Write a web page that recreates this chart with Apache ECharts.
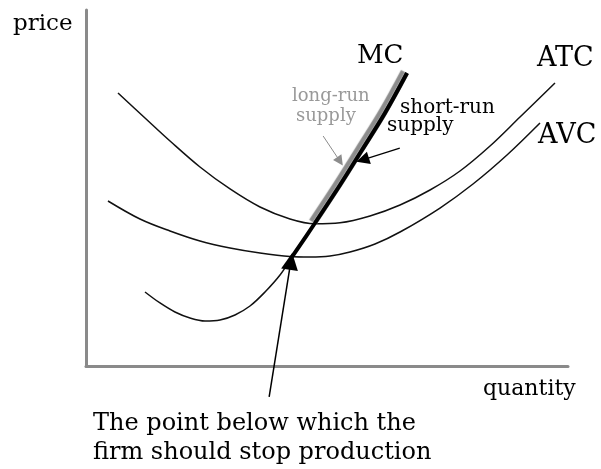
<!DOCTYPE html>
<html>
<head>
<meta charset="utf-8">
<script src="https://cdn.jsdelivr.net/npm/echarts@6/dist/echarts.min.js"></script>
<style>
  html, body { margin: 0; padding: 0; background: #ffffff; }
  #chart { width: 601px; height: 469px; }
</style>
</head>
<body>
<div id="chart"></div>
<script>
// Cost curves of a competitive firm (quantity and price in arbitrary units, 0-100)
const atcQty   = [6.64, 12.24, 17.43, 23.65, 29.88, 36.10, 42.32, 47.51, 52.70, 58.92, 65.15, 71.37, 77.59, 83.82, 90.04, 97.30];
const atcPrice = [76.69, 69.66, 63.20, 55.90, 49.72, 44.66, 41.29, 39.94, 40.22, 42.13, 45.22, 49.44, 54.78, 61.80, 69.94, 79.49];

const avcQty   = [4.56, 11.20, 17.43, 23.65, 29.88, 36.10, 42.32, 46.47, 50.62, 54.77, 59.96, 65.15, 73.44, 80.29, 87.34, 94.19];
const avcPrice = [46.35, 41.29, 37.92, 35.11, 33.15, 31.74, 30.76, 30.62, 30.90, 32.02, 34.27, 37.64, 44.38, 51.12, 59.27, 68.26];

const mcQty    = [12.24, 15.35, 18.46, 21.58, 24.69, 27.80, 30.91, 34.02, 37.14, 40.25, 42.74, 47.51, 52.70, 57.26, 62.03, 66.60];
const mcPrice  = [20.79, 17.70, 15.17, 13.48, 12.64, 12.92, 14.33, 16.85, 20.79, 25.56, 30.62, 40.17, 50.84, 60.67, 71.07, 82.30];

// MC meets AVC at point 10 (shutdown point) and ATC at point 11
const shutdownIndex = 10;
const breakEvenIndex = 11;

// Annotation arrows, [from, to] in data units
const shutdownArrow = [[38.0, -8.7], [42.5, 29.4]];
const shortRunArrow = [[65.1, 61.2], [57.4, 57.9]];
const longRunArrow  = [[49.2, 64.6], [52.7, 57.5]];

const zip = (xs, ys) => xs.map((x, i) => [x, ys[i]]);

const atc = zip(atcQty, atcPrice);
const avc = zip(avcQty, avcPrice);
const mc  = zip(mcQty, mcPrice);
const shortRunSupply = mc.slice(shutdownIndex);
const longRunSupply  = mc.slice(breakEvenIndex);

const serif = '"DejaVu Serif", serif';
const chart = echarts.init(document.getElementById('chart'), null, { renderer: 'canvas' });

function label(text, left, top, size, color) {
  return {
    type: 'text', left: left, top: top, silent: true,
    style: { text: text, font: size + 'px ' + serif, fill: color || '#000' }
  };
}

const curveStyle = { color: '#111', width: 1.5 };

chart.setOption({
  animation: false,
  backgroundColor: '#ffffff',
  grid: { left: 86, right: 33, top: 10, bottom: 103 },
  xAxis: {
    type: 'value', min: 0, max: 100,
    axisLine: { show: true, lineStyle: { color: '#8a8a8a', width: 3 } },
    axisTick: { show: false }, axisLabel: { show: false }, splitLine: { show: false }
  },
  yAxis: {
    type: 'value', min: 0, max: 100,
    axisLine: { show: true, lineStyle: { color: '#8a8a8a', width: 3 } },
    axisTick: { show: false }, axisLabel: { show: false }, splitLine: { show: false }
  },
  series: [
    { name: 'ATC', type: 'line', data: atc, smooth: 0.35, symbol: 'none', lineStyle: curveStyle },
    { name: 'AVC', type: 'line', data: avc, smooth: 0.35, symbol: 'none', lineStyle: curveStyle },
    { name: 'MC',  type: 'line', data: mc,  smooth: 0.35, symbol: 'none', lineStyle: curveStyle },
    {
      // grey band lying along the upper-left side of MC
      name: 'long-run supply', type: 'line', data: longRunSupply, smooth: 0.35, symbol: 'none', z: 3,
      lineStyle: {
        color: '#8c8c8c', width: 4.5, cap: 'butt',
        shadowColor: '#8c8c8c', shadowBlur: 1, shadowOffsetX: -4, shadowOffsetY: -2
      }
    },
    {
      name: 'short-run supply', type: 'line', data: shortRunSupply, smooth: 0.35, symbol: 'none', z: 4,
      lineStyle: { color: '#000', width: 4, cap: 'butt' }
    },
    {
      type: 'lines', coordinateSystem: 'cartesian2d', clip: false, z: 5,
      symbol: ['none', 'triangle'],
      data: [
        { coords: shutdownArrow, symbolSize: [14, 17], lineStyle: { color: '#000', width: 1.5, opacity: 1 } },
        { coords: shortRunArrow, symbolSize: [11, 13], lineStyle: { color: '#000', width: 1.2, opacity: 1 } },
        { coords: longRunArrow, symbolSize: [8, 10], lineStyle: { color: '#8c8c8c', width: 1, opacity: 1 } }
      ]
    }
  ],
  graphic: [
    label('price', 13, 13, 23),
    label('quantity', 483, 378, 22),
    label('MC', 357, 43, 26),
    label('ATC', 537, 45, 27),
    label('AVC', 538, 122, 27),
    label('short-run', 400, 98, 20),
    label('supply', 387, 116, 20),
    label('long-run', 292, 87, 18, '#999'),
    label('supply', 296, 107, 18, '#999'),
    label('The point below which the', 93, 412, 24),
    label('firm should stop production', 93, 441, 24)
  ]
});
</script>
</body>
</html>
